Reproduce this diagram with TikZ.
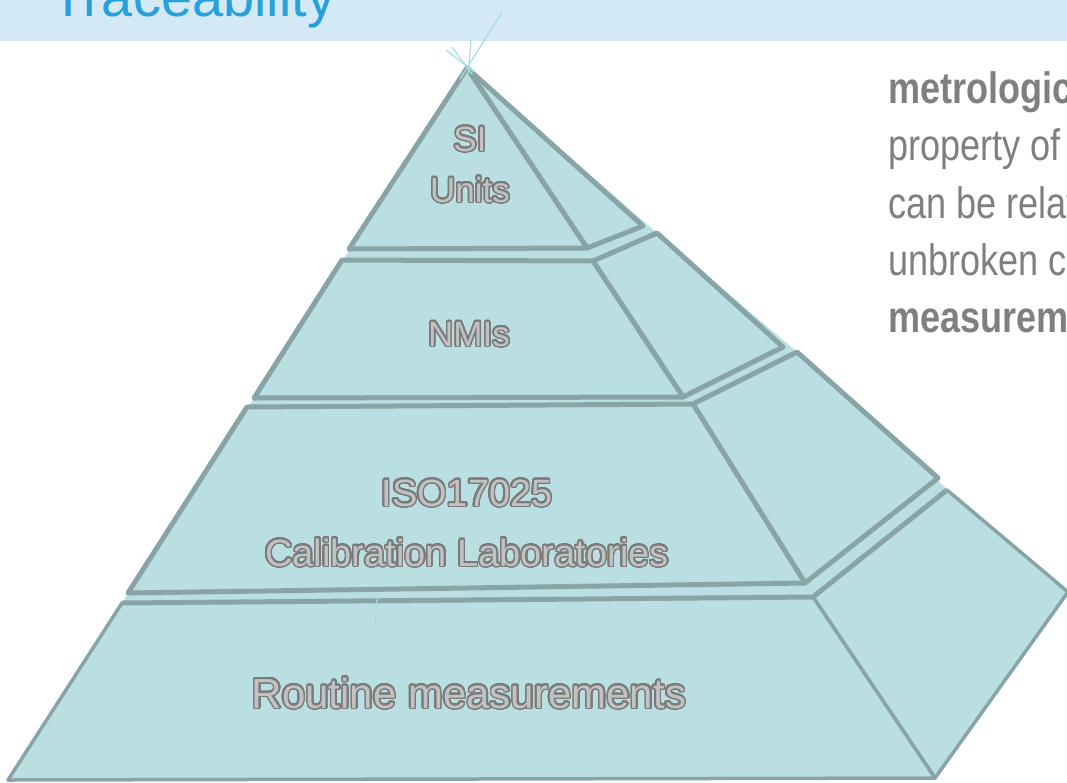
\documentclass[tikz,border=0pt]{standalone}
\usepackage{fontspec}
\setmainfont{Liberation Sans}
\newfontfamily\narrowfont[FakeStretch=0.82]{Liberation Sans}
\usepackage[copies]{contour}
\contourlength{1.5pt}
\contournumber{32}

\definecolor{bandblue}{HTML}{D3EAF6}
\definecolor{titleblue}{HTML}{27A1DC}
\definecolor{pyrfill}{HTML}{B9DFE2}
\definecolor{pyredge}{HTML}{88A4A6}
\definecolor{pyrglint}{HTML}{A9DCE0}
\definecolor{tierfill}{HTML}{C2C2C2}
\definecolor{tieredge}{HTML}{7A7A7A}
\definecolor{defgray}{HTML}{7F7F7F}

\newcommand{\tiertext}[1]{\contour{tieredge}{#1}}

\begin{document}
\begin{tikzpicture}[x=1pt,y=-1pt,
      layer/.style ={fill=pyrfill, draw=pyredge, line width=5pt, line join=round},
      baselayer/.style ={fill=pyrfill, draw=pyredge, line width=3.5pt, line join=round},
      glint/.style ={draw=pyrglint, line width=1.2pt},
      tier/.style ={inner sep=0pt, anchor=base, text=tierfill},
      defn/.style ={inner sep=0pt, anchor=base west, text=defgray, font=\narrowfont\fontsize{44}{50}\selectfont}]
   \useasboundingbox (0,0) rectangle (1067,782);
   \clip (0,0) rectangle (1067,782);
   % title band
   \fill[bandblue] (0,0) rectangle (1067,41);
   \node[inner sep=0pt, anchor=base west, text=titleblue, font=\fontsize{56}{60}\selectfont] (title) at (51,16) {Traceability};
   % pyramid body
   \fill[pyrfill] (467,68) -- (657,233) -- (797,352) -- (947,489) -- (1068,592) -- (935,778) -- (8,780) -- cycle;
   % base tier
   \draw[baselayer] (813,597) -- (947,490) -- (1068,592) -- (935,778) -- cycle;
   \draw[baselayer] (122,603) -- (813,597) -- (935,778) -- (8,780) -- cycle;
   \draw[pyredge, line width=5pt] (122,603) -- (813,597) -- (947,490);
   % third tier
   \draw[layer] (693,404) -- (797,352) -- (938,478) -- (805,583) -- cycle;
   \draw[layer] (247,407) -- (693,404) -- (805,583) -- (128,593) -- cycle;
   % second tier
   \draw[layer] (593,261) -- (657,233) -- (783,347) -- (683,397) -- cycle;
   \draw[layer] (342,260) -- (593,261) -- (683,397) -- (254,398) -- cycle;
   % top tier
   \draw[layer] (467,68) -- (643,226) -- (587,248) -- cycle;
   \draw[layer] (467,68) -- (587,248) -- (349,249) -- cycle;
   % light strokes
   \draw[glint] (460,79) -- (502,12);
   \draw[glint] (468,75) -- (471,40);
   \draw[glint] (472,74) -- (452,47);
   \draw[glint] (474,72) -- (446,50);
   \draw[glint] (377,598) -- (375,625);
   % tier labels
   \node[tier, font=\fontsize{35}{40}\selectfont] (si)    at (470,151) {\tiertext{SI}};
   \node[tier, font=\fontsize{35}{40}\selectfont] (units) at (470,202) {\tiertext{Units}};
   \node[tier, font=\fontsize{35}{40}\selectfont] (nmi)   at (469,346) {\tiertext{NMIs}};
   \node[tier, font=\fontsize{38}{44}\selectfont] (iso)   at (467,506) {\tiertext{ISO17025}};
   \node[tier, font=\fontsize{38}{44}\selectfont] (cal)   at (467,566) {\tiertext{Calibration Laboratories}};
   \node[tier, font=\fontsize{42}{48}\selectfont] (rout)  at (469,708) {\tiertext{Routine measurements}};
   % definition text
   \node[defn] (def1) at (888,103) {\bfseries metrological};
   \node[defn] (def2) at (888,160) {property of};
   \node[defn] (def3) at (888,218) {can be related};
   \node[defn] (def4) at (888,275) {unbroken chain};
   \node[defn] (def5) at (888,332) {\bfseries measurement};
 \end{tikzpicture}
\end{document}
